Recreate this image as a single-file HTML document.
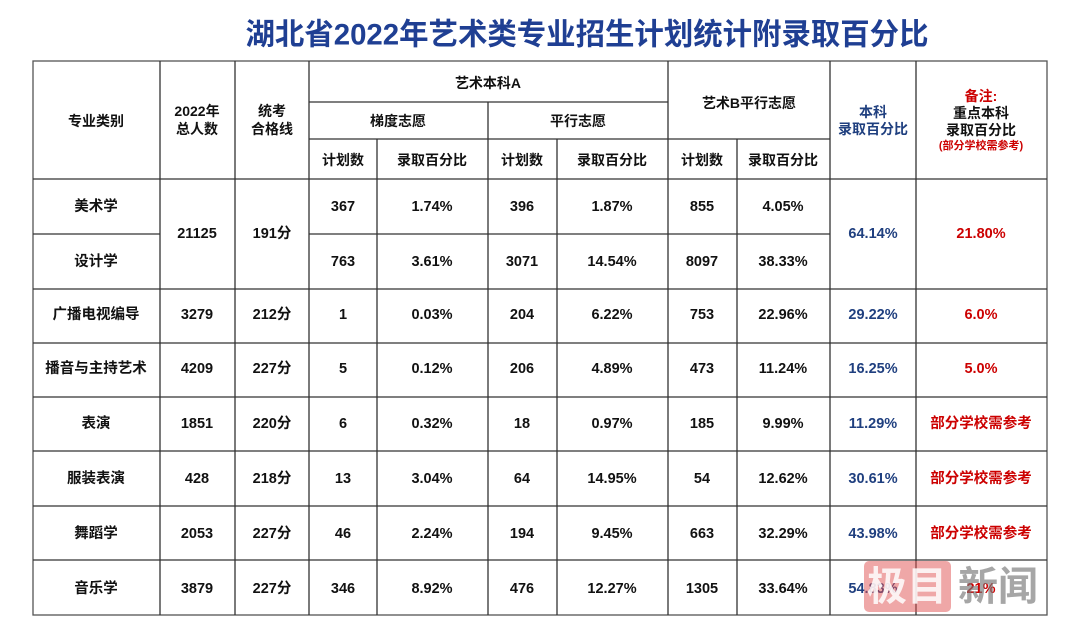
<!DOCTYPE html>
<html><head><meta charset="utf-8"><style>
html,body{margin:0;padding:0;background:#fff;}
svg{display:block;}
text{font-family:"Liberation Sans","Noto Sans CJK SC",sans-serif;font-weight:bold;text-anchor:middle;dominant-baseline:central;}
</style></head><body>
<svg width="1080" height="636" viewBox="0 0 1080 636" xmlns="http://www.w3.org/2000/svg">
<text x="587" y="35" font-size="30" fill="#1f3f93" textLength="683" lengthAdjust="spacingAndGlyphs">湖北省2022年艺术类专业招生计划统计附录取百分比</text>
<g stroke="#333" stroke-width="1.3" fill="none">
<rect x="33" y="61" width="1014" height="554" stroke="#555"/>
<line x1="160" y1="61" x2="160" y2="615"/>
<line x1="235" y1="61" x2="235" y2="615"/>
<line x1="309" y1="61" x2="309" y2="615"/>
<line x1="377" y1="139" x2="377" y2="615"/>
<line x1="488" y1="102" x2="488" y2="615"/>
<line x1="557" y1="139" x2="557" y2="615"/>
<line x1="668" y1="61" x2="668" y2="615"/>
<line x1="737" y1="139" x2="737" y2="615"/>
<line x1="830" y1="61" x2="830" y2="615"/>
<line x1="916" y1="61" x2="916" y2="615"/>
<line x1="309" y1="102" x2="668" y2="102"/>
<line x1="309" y1="139" x2="830" y2="139"/>
<line x1="33" y1="179" x2="1047" y2="179"/>
<line x1="33" y1="234" x2="160" y2="234"/>
<line x1="309" y1="234" x2="830" y2="234"/>
<line x1="33" y1="289" x2="1047" y2="289"/>
<line x1="33" y1="343" x2="1047" y2="343"/>
<line x1="33" y1="397" x2="1047" y2="397"/>
<line x1="33" y1="451" x2="1047" y2="451"/>
<line x1="33" y1="506" x2="1047" y2="506"/>
<line x1="33" y1="560" x2="1047" y2="560"/>
</g>
<g font-size="14" fill="#111">
<text x="96" y="121">专业类别</text>
<text x="197" y="111">2022年</text><text x="197" y="129">总人数</text>
<text x="272" y="111">统考</text><text x="272" y="129">合格线</text>
<text x="488" y="83">艺术本科A</text>
<text x="398" y="121">梯度志愿</text>
<text x="578" y="121">平行志愿</text>
<text x="749" y="103">艺术B平行志愿</text>
<text x="343" y="160">计划数</text><text x="432" y="160">录取百分比</text>
<text x="522" y="160">计划数</text><text x="612" y="160">录取百分比</text>
<text x="702" y="160">计划数</text><text x="783" y="160">录取百分比</text>
<text x="873" y="112" fill="#1f3f7f">本科</text><text x="873" y="129" fill="#1f3f7f">录取百分比</text>
<text x="981" y="96" fill="#c00">备注:</text>
<text x="981" y="113">重点本科</text><text x="981" y="130">录取百分比</text>
<text x="981" y="146" font-size="11" fill="#c00">(部分学校需参考)</text>
</g>
<g font-size="14.5" fill="#111">
<text x="96" y="207">美术学</text><text x="96" y="262">设计学</text>
<text x="197" y="234">21125</text><text x="272" y="234">191分</text>
<text x="343" y="207">367</text><text x="432" y="207">1.74%</text><text x="522" y="207">396</text><text x="612" y="207">1.87%</text><text x="702" y="207">855</text><text x="783" y="207">4.05%</text>
<text x="343" y="262">763</text><text x="432" y="262">3.61%</text><text x="522" y="262">3071</text><text x="612" y="262">14.54%</text><text x="702" y="262">8097</text><text x="783" y="262">38.33%</text>
<text x="873" y="234" fill="#1f3f7f">64.14%</text><text x="981" y="234" fill="#c00">21.80%</text>

<text x="96" y="315">广播电视编导</text><text x="197" y="315">3279</text><text x="272" y="315">212分</text><text x="343" y="315">1</text><text x="432" y="315">0.03%</text><text x="522" y="315">204</text><text x="612" y="315">6.22%</text><text x="702" y="315">753</text><text x="783" y="315">22.96%</text><text x="873" y="315" fill="#1f3f7f">29.22%</text><text x="981" y="315" fill="#c00">6.0%</text>

<text x="96" y="369">播音与主持艺术</text><text x="197" y="369">4209</text><text x="272" y="369">227分</text><text x="343" y="369">5</text><text x="432" y="369">0.12%</text><text x="522" y="369">206</text><text x="612" y="369">4.89%</text><text x="702" y="369">473</text><text x="783" y="369">11.24%</text><text x="873" y="369" fill="#1f3f7f">16.25%</text><text x="981" y="369" fill="#c00">5.0%</text>

<text x="96" y="424">表演</text><text x="197" y="424">1851</text><text x="272" y="424">220分</text><text x="343" y="424">6</text><text x="432" y="424">0.32%</text><text x="522" y="424">18</text><text x="612" y="424">0.97%</text><text x="702" y="424">185</text><text x="783" y="424">9.99%</text><text x="873" y="424" fill="#1f3f7f">11.29%</text><text x="981" y="424" fill="#c00">部分学校需参考</text>

<text x="96" y="479">服装表演</text><text x="197" y="479">428</text><text x="272" y="479">218分</text><text x="343" y="479">13</text><text x="432" y="479">3.04%</text><text x="522" y="479">64</text><text x="612" y="479">14.95%</text><text x="702" y="479">54</text><text x="783" y="479">12.62%</text><text x="873" y="479" fill="#1f3f7f">30.61%</text><text x="981" y="479" fill="#c00">部分学校需参考</text>

<text x="96" y="534">舞蹈学</text><text x="197" y="534">2053</text><text x="272" y="534">227分</text><text x="343" y="534">46</text><text x="432" y="534">2.24%</text><text x="522" y="534">194</text><text x="612" y="534">9.45%</text><text x="702" y="534">663</text><text x="783" y="534">32.29%</text><text x="873" y="534" fill="#1f3f7f">43.98%</text><text x="981" y="534" fill="#c00">部分学校需参考</text>

<text x="96" y="589">音乐学</text><text x="197" y="589">3879</text><text x="272" y="589">227分</text><text x="343" y="589">346</text><text x="432" y="589">8.92%</text><text x="522" y="589">476</text><text x="612" y="589">12.27%</text><text x="702" y="589">1305</text><text x="783" y="589">33.64%</text><text x="873" y="589" fill="#1f3f7f">54.83%</text><text x="981" y="589" fill="#c00">21%</text>
</g>
<rect x="864" y="561" width="87" height="51" rx="5" fill="#e05050" opacity="0.5"/>
<text x="907" y="587" font-size="40" fill="#fff" opacity="0.85" font-family="Noto Serif CJK SC,serif">极目</text>
<text x="998" y="587" font-size="40" fill="#777" opacity="0.65" font-family="Noto Serif CJK SC,serif">新闻</text>
</svg>
</body></html>
